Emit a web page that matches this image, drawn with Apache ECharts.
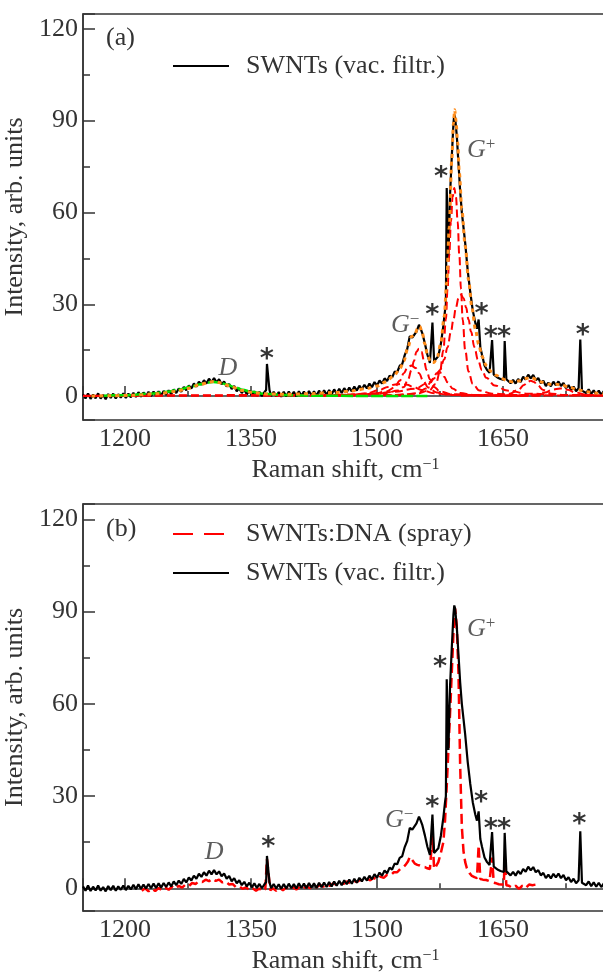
<!DOCTYPE html>
<html><head><meta charset="utf-8">
<script src="https://cdn.jsdelivr.net/npm/echarts@6/dist/echarts.min.js"></script>
<style>html,body{margin:0;padding:0;background:#fff}#c{width:603px;height:978px}</style>
</head><body><div id="c"></div>
<script>
// ---------------- data ----------------
const xTickLabels = [1200, 1350, 1500, 1650];
const yTickLabels = [0, 30, 60, 90, 120];

// SWNTs (vac. filtr.) spectrum, [Raman shift, intensity]
const vacFiltr = [
[1150,0.6],[1153,-0.8],[1156,0.9],[1159,-0.9],[1162,0.5],[1165,-0.7],[1168,0.9],[1171,-0.8],[1174,0.4],[1177,-1.0],
[1180,0.7],[1183,-0.6],[1186,0.8],[1189,-0.8],[1192,0.6],[1195,-0.5],[1198,0.9],[1201,-0.6],[1204,0.8],[1207,-0.4],
[1210,1.1],[1213,-0.3],[1216,1.3],[1219,-0.2],[1222,1.2],[1225,-0.1],[1228,1.4],[1231,0.0],[1234,1.5],[1237,0.1],
[1240,1.6],[1243,0.2],[1246,1.7],[1249,0.4],[1252,1.9],[1255,0.6],[1258,2.2],[1261,1.0],[1264,2.5],[1267,1.4],
[1270,3.0],[1273,1.9],[1276,3.5],[1279,2.5],[1282,4.1],[1285,3.1],[1288,4.7],[1291,3.7],[1294,5.2],[1297,4.1],
[1300,5.7],[1303,4.5],[1306,5.9],[1309,4.5],[1312,5.5],[1315,3.9],[1318,4.8],[1321,3.1],[1324,4.0],[1327,2.3],
[1330,3.3],[1333,1.6],[1336,2.6],[1339,1.0],[1342,2.1],[1345,0.6],[1348,1.8],[1351,0.3],[1354,1.6],[1357,0.1],
[1360,1.4],[1363,0.0],[1366,1.3],[1368,2.0],[1369,10.5],[1371,10.7],[1372,2.0],[1374,0.0],[1377,1.4],[1380,-0.1],
[1383,1.3],[1386,-0.2],[1389,1.4],[1392,-0.1],[1395,1.5],[1398,0.0],[1401,1.4],[1404,-0.1],[1407,1.6],[1410,0.1],
[1413,1.5],[1416,0.0],[1419,1.7],[1422,0.2],[1425,1.6],[1428,0.1],[1431,1.8],[1434,0.3],[1437,1.9],[1440,0.4],
[1443,2.0],[1446,0.6],[1449,2.2],[1452,0.8],[1455,2.4],[1458,1.0],[1461,2.6],[1464,1.3],[1467,2.8],[1470,1.5],
[1473,3.1],[1476,1.8],[1479,3.4],[1482,2.2],[1485,3.7],[1488,2.5],[1491,4.1],[1494,2.9],[1497,4.6],[1500,3.4],
[1503,5.1],[1506,4.1],[1509,5.8],[1512,4.9],[1515,6.7],[1518,6.1],[1521,8.0],[1524,7.8],[1527,9.9],[1530,10.4],
[1533,13.4],[1536,15.4],[1539,19.6],[1542,19.1],[1544,19.4],[1547,21.1],[1550,23.3],[1552,22.0],[1554,20.5],[1557,17.2],
[1560,13.5],[1563,10.8],[1565,11.0],[1566,24.0],[1567,24.0],[1568,11.5],[1570,11.8],[1573,13.0],[1576,17.0],[1579,23.0],
[1581,28.0],[1582,30.0],[1583,68.0],[1584,68.0],[1585,45.0],[1587,66.0],[1589,78.0],[1591,89.0],[1592,92.0],[1593,91.0],
[1595,85.0],[1597,76.0],[1599,67.0],[1601,60.0],[1603,55.0],[1605,50.0],[1608,41.0],[1611,34.0],[1614,28.0],[1617,24.0],
[1619,22.0],[1620,21.5],[1621,25.0],[1622,25.0],[1623,16.0],[1625,13.5],[1628,10.0],[1631,8.5],[1634,7.6],[1636,7.2],
[1637,18.3],[1638,18.3],[1639,7.0],[1641,6.6],[1644,6.0],[1647,5.6],[1649,5.4],[1651,5.3],[1652,18.0],[1653,18.0],
[1654,5.5],[1656,5.4],[1659,4.2],[1662,5.3],[1665,4.1],[1668,5.6],[1671,4.6],[1674,6.3],[1677,5.4],[1680,7.0],
[1683,5.8],[1686,6.9],[1689,5.2],[1692,5.9],[1695,4.2],[1698,5.0],[1701,3.3],[1704,4.4],[1707,3.2],[1710,4.7],
[1713,3.5],[1716,4.8],[1719,3.3],[1722,4.3],[1725,2.6],[1728,3.6],[1731,2.0],[1734,3.1],[1737,1.6],[1740,2.6],
[1741,2.2],[1742,18.5],[1743,18.5],[1744,1.8],[1746,2.4],[1749,1.0],[1752,2.2],[1755,0.7],[1758,1.9],[1761,0.5],
[1764,1.8],[1767,0.4],[1770,1.6],[1773,0.3],[1775,1.2]
];

// SWNTs:DNA (spray) spectrum
const dnaSpray = [
[1220,-0.8],[1224,0.0],[1228,-1.0],[1232,-0.1],[1236,-0.9],[1240,0.1],[1244,-0.7],[1248,0.2],[1252,-0.5],[1256,0.5],
[1260,-0.2],[1264,0.8],[1268,0.2],[1272,1.2],[1276,0.7],[1280,1.7],[1284,1.4],[1288,2.3],[1292,2.0],[1296,2.8],
[1300,2.3],[1304,3.1],[1308,2.4],[1312,2.8],[1316,1.9],[1320,2.2],[1324,1.2],[1328,1.4],[1332,0.4],[1336,0.7],
[1340,-0.2],[1344,0.3],[1348,-0.6],[1352,0.0],[1356,-0.8],[1360,-0.1],[1364,-0.9],[1367,-0.3],[1369,9.5],[1371,9.5],
[1373,-0.7],[1376,0.0],[1380,-0.8],[1384,0.2],[1388,-0.7],[1392,0.3],[1396,-0.5],[1400,0.4],[1404,-0.4],[1408,0.5],
[1412,-0.2],[1416,0.7],[1420,0.0],[1424,0.9],[1428,0.3],[1432,1.1],[1436,0.5],[1440,1.3],[1444,0.8],[1448,1.6],
[1452,1.1],[1456,1.9],[1460,1.4],[1464,2.2],[1468,1.7],[1472,2.5],[1476,2.0],[1480,2.8],[1484,2.3],[1488,3.1],
[1492,2.6],[1496,3.4],[1500,2.8],[1504,3.8],[1508,3.4],[1512,4.4],[1516,4.2],[1520,5.2],[1524,5.2],[1528,6.4],
[1531,6.8],[1534,7.6],[1537,8.8],[1539,10.2],[1541,10.0],[1543,8.8],[1545,8.0],[1548,7.6],[1551,7.4],[1554,7.0],
[1557,6.9],[1560,6.5],[1563,6.2],[1565,6.5],[1566,17.0],[1567,17.0],[1568,6.3],[1570,7.0],[1573,8.5],[1576,11.5],
[1579,15.0],[1581,22.0],[1583,33.0],[1585,45.0],[1587,57.0],[1589,70.0],[1591,83.0],[1593,91.0],[1595,85.0],[1597,70.0],
[1599,40.0],[1601,20.0],[1603,12.0],[1605,8.5],[1607,6.5],[1610,5.0],[1613,4.0],[1616,3.6],[1619,3.3],[1621,14.0],
[1622,14.0],[1623,3.0],[1626,2.8],[1630,2.7],[1634,2.3],[1636,2.0],[1637,10.0],[1638,10.0],[1639,1.8],[1642,1.6],
[1645,1.3],[1648,1.2],[1651,1.2],[1652,10.0],[1653,10.0],[1654,1.0],[1657,0.8],[1661,0.1],[1665,0.8],[1669,-0.2],
[1673,0.8],[1677,0.1],[1681,1.2],[1685,1.0],[1689,1.2],[1692,0.5]
];

// total fit (orange dotted)
const fitTotal = [
[1160,0.0],[1180,0.1],[1210,0.3],[1240,0.8],[1260,1.5],[1275,2.5],[1290,3.8],[1300,4.6],[1306,4.8],[1315,4.3],
[1325,3.2],[1340,1.8],[1355,1.0],[1370,0.7],[1390,0.6],[1420,0.8],[1450,1.2],[1470,1.7],[1490,2.6],[1500,3.3],
[1510,4.6],[1520,6.6],[1527,8.8],[1532,11.5],[1537,16.0],[1541,19.5],[1545,20.0],[1548,22.0],[1551,22.8],[1554,20.5],
[1557,17.0],[1560,13.5],[1564,11.0],[1568,11.0],[1572,13.0],[1576,17.5],[1580,26.0],[1583,37.0],[1586,55.0],[1589,77.0],
[1591,89.0],[1592.5,93.5],[1594,90.0],[1596,83.0],[1598,73.0],[1601,61.0],[1605,49.0],[1609,38.0],[1613,29.0],[1617,22.0],
[1621,17.0],[1625,13.0],[1630,10.0],[1636,8.0],[1642,6.8],[1648,5.8],[1655,5.0],[1662,4.6],[1670,5.0],[1678,5.8],
[1684,6.0],[1690,5.4],[1697,4.5],[1705,3.9],[1713,3.9],[1720,3.6],[1730,2.8],[1740,2.0],[1750,1.4],[1760,1.0],[1775,0.7]
];

// D band fit (green dashed)
const fitD = [
[1175,0.1],[1200,0.3],[1230,0.8],[1250,1.4],[1265,2.2],[1280,3.2],[1290,3.9],[1298,4.4],[1305,4.6],[1312,4.4],
[1320,3.9],[1330,3.0],[1340,2.1],[1350,1.4],[1365,0.8],[1385,0.4],[1420,0.15],[1480,0.05],[1560,0.0]
];

// G band components (red dashed)
const compG1 = [
[1150,0.05],[1442,0.15],[1492,0.25],[1522,0.4],[1547,0.8],[1562,1.8],[1570,4],[1575,8],[1579,15],[1582,25],
[1584,35],[1586,46],[1588,57],[1590,65],[1592,68],[1594,65],[1596,57],[1598,46],[1600,35],[1602,25],
[1605,15],[1609,8],[1614,4],[1622,1.8],[1637,0.8],[1662,0.4],[1692,0.25],[1775,0.1]
];
const compG2 = [
[1150,0.1],[1450,0.4],[1500,0.9],[1520,1.4],[1545,2.4],[1560,4.2],[1570,6],[1575,8.5],[1580,12],[1584,16],
[1588,21],[1591,25],[1594,29],[1597,32],[1600,33],[1603,32],[1606,29],[1609,25],[1612,21],[1616,16],
[1620,12],[1625,8.5],[1630,6],[1640,3.5],[1655,1.8],[1680,0.8],[1720,0.4],[1775,0.2]
];
const compG3 = [
[1460,0.2],[1500,0.7],[1510,1],[1525,1.8],[1532,3],[1537,5.5],[1541,8.5],[1544,11.5],[1547,14.5],[1550,15.5],
[1553,14.5],[1556,11.5],[1559,8.5],[1563,5.5],[1568,3],[1575,1.5],[1590,0.6],[1620,0.3],[1680,0.1]
];
const compG4 = [
[1440,0.2],[1480,0.5],[1496,0.8],[1511,1.5],[1521,2.8],[1527,5],[1532,7.5],[1536,9.2],[1541,10],[1546,9.2],
[1550,7.5],[1555,5],[1561,2.8],[1571,1.2],[1586,0.5],[1620,0.2],[1680,0.1]
];
const compG5 = [
[1480,0.1],[1520,0.3],[1534,0.5],[1549,1],[1558,2.5],[1564,4.5],[1568,6.3],[1571,7.5],[1574,8],[1577,7.5],
[1580,6.3],[1584,4.5],[1590,2.5],[1599,1],[1614,0.4],[1650,0.2],[1700,0.1]
];
const compG6 = [
[1420,0.2],[1468,0.4],[1488,0.9],[1503,2],[1513,3],[1520,3.7],[1528,4],[1536,3.7],[1543,3],[1553,2],
[1568,0.9],[1588,0.4],[1630,0.2]
];
const compG7 = [
[1600,0.1],[1643,0.3],[1658,0.8],[1668,2],[1675,3.6],[1679,4.6],[1683,5],[1687,4.6],[1691,3.6],[1698,2],
[1708,0.8],[1723,0.3],[1760,0.1]
];
const compG8 = [
[1640,0.1],[1673,0.2],[1688,0.5],[1700,1.2],[1709,2.1],[1718,2.5],[1727,2.1],[1736,1.2],[1748,0.5],[1763,0.2],[1775,0.1]
];

// asterisk marks (data coordinates of their centres)
const starsA = [[1368.7,14.5],[1565.8,28.7],[1576.2,73.9],[1624.6,29.2],[1635.4,21.6],[1651.2,21.6],[1744.9,22.1]];
const starsB = [[1370.6,15.7],[1565.8,28.7],[1575.0,74.3],[1623.8,30.4],[1635.4,21.7],[1651.2,21.7],[1740.8,23.3]];
// band labels
const bandLabelsA = [{t:'D', x:1322.6, y:9.2}, {t:'G', s:'−', x:1516.7, y:23.2}, {t:'G', s:'+', x:1607.1, y:80.4}];
const bandLabelsB = [{t:'D', x:1306.0, y:11.8}, {t:'G', s:'−', x:1509.5, y:22.3}, {t:'G', s:'+', x:1607.1, y:84.3}];

// ---------------- chart ----------------
const FONT = "'Liberation Serif', 'Times New Roman', Times, serif";
const FS = 26;
const TXT = '#333';
const chart = echarts.init(document.getElementById('c'), null, {renderer: 'canvas'});

function xAxisCfg(gi) {
  return {
    type: 'value', gridIndex: gi, min: 1150, max: 1775, minInterval: 150, maxInterval: 150,
    name: 'Raman shift, cm{sup|−1}', nameLocation: 'middle', nameGap: 37,
    nameTextStyle: {fontFamily: FONT, fontSize: FS, color: TXT,
      rich: {sup: {fontFamily: FONT, fontSize: 16, color: TXT, verticalAlign: 'top'}}},
    axisLine: {show: true, lineStyle: {color: '#333', width: 1.5}},
    axisTick: {show: true, inside: true, length: 10, lineStyle: {color: '#333', width: 1.5}},
    minorTick: {show: true, splitNumber: 2, length: 5, lineStyle: {color: '#333', width: 1.5}},
    splitLine: {show: false}, minorSplitLine: {show: false},
    axisLabel: {fontFamily: FONT, fontSize: FS, color: TXT, margin: 6, showMinLabel: false, showMaxLabel: false,
      formatter: v => xTickLabels.includes(Math.round(v)) ? String(Math.round(v)) : ''}
  };
}
function yAxisCfg(gi, mn, mx) {
  return {
    type: 'value', gridIndex: gi, min: mn, max: mx, minInterval: 30, maxInterval: 30,
    name: 'Intensity, arb. units', nameLocation: 'middle', nameGap: 44,
    nameTextStyle: {fontFamily: FONT, fontSize: FS, color: TXT},
    axisLine: {show: true, lineStyle: {color: '#333', width: 1.5}},
    axisTick: {show: true, inside: true, length: 12, lineStyle: {color: '#333', width: 1.5}},
    minorTick: {show: true, splitNumber: 2, length: 7, lineStyle: {color: '#333', width: 1.5}},
    splitLine: {show: false}, minorSplitLine: {show: false},
    axisLabel: {fontFamily: FONT, fontSize: FS, color: TXT, margin: 5, showMinLabel: false, showMaxLabel: false,
      formatter: v => yTickLabels.includes(Math.round(v)) ? String(Math.round(v)) : ''}
  };
}
function line(name, data, gi, style, extra) {
  return Object.assign({type: 'line', name: name, data: data, xAxisIndex: gi, yAxisIndex: gi,
    symbol: 'none', showSymbol: false, animation: false, silent: true, lineStyle: style}, extra || {});
}
const redComp = {color: '#ff0000', width: 2, type: [8, 4]};
function comp(data) { return line('', data, 0, redComp, {smooth: 0.4, smoothMonotone: 'x', z: 3}); }

function annot(gi, stars, bands) {
  const data = [];
  stars.forEach(p => data.push({value: p, label: {formatter: '*', position: 'inside',
    fontFamily: 'DejaVu Sans', fontWeight: 'bold', fontSize: 27, color: '#000', offset: [0, 8]}}));
  bands.forEach(b => {
    if (b.s) {
      data.push({value: [b.x, b.y], label: {position: 'right', distance: 0,
        formatter: '{g|' + b.t + '}{s|' + b.s + '}',
        rich: {g: {fontFamily: FONT, fontStyle: 'italic', fontSize: FS, color: TXT, lineHeight: 28},
               s: {fontFamily: FONT, fontSize: 17, color: TXT, verticalAlign: 'top'}}}});
    } else {
      data.push({value: [b.x, b.y], label: {position: 'inside', formatter: b.t,
        fontFamily: FONT, fontStyle: 'italic', fontSize: FS, color: TXT}});
    }
  });
  return {type: 'scatter', xAxisIndex: gi, yAxisIndex: gi, symbolSize: 0, silent: true, animation: false,
    z: 20, data: data, label: {show: true}};
}

const gridBase = {left: 83, width: 525, show: true, borderColor: '#333', borderWidth: 1.5,
  backgroundColor: 'transparent', containLabel: false, outerBoundsMode: 'none'};
const option = {
  animation: false,
  backgroundColor: '#fff',
  textStyle: {fontFamily: FONT},
  grid: [
    Object.assign({top: 14, height: 406}, gridBase),
    Object.assign({top: 504, height: 407}, gridBase)
  ],
  title: [
    {text: '(a)', left: 106, top: 25, padding: 0, textStyle: {fontFamily: FONT, fontSize: FS, fontWeight: 'normal', color: TXT}},
    {text: '(b)', left: 106, top: 516, padding: 0, textStyle: {fontFamily: FONT, fontSize: FS, fontWeight: 'normal', color: TXT}}
  ],
  legend: [
    {left: 172, top: 53, padding: 0, orient: 'vertical', itemWidth: 56, itemHeight: 14, selectedMode: false,
     itemStyle: {opacity: 0},
     data: ['SWNTs (vac. filtr.)'],
     textStyle: {fontFamily: FONT, fontSize: FS, color: TXT, padding: [10, 0, 0, 12]}},
    {left: 172, top: 521, padding: 0, orient: 'vertical', itemWidth: 56, itemHeight: 14, itemGap: 13, selectedMode: false,
     itemStyle: {opacity: 0},
     data: [{name: 'SWNTs:DNA (spray)', lineStyle: {type: [20, 11]}}, 'SWNTs (vac. filtr.)'],
     textStyle: {fontFamily: FONT, fontSize: FS, color: TXT, padding: [0, 0, 0, 12]}}
  ],
  xAxis: [xAxisCfg(0), xAxisCfg(1)],
  yAxis: [yAxisCfg(0, -7.8, 124.8), yAxisCfg(1, -7.4, 125)],
  series: [
    line('SWNTs (vac. filtr.)', vacFiltr, 0, {color: '#000', width: 2.2}, {itemStyle: {color: '#000'}, z: 2}),
    comp(compG1), comp(compG2), comp(compG3), comp(compG4), comp(compG5), comp(compG6), comp(compG7), comp(compG8),
    line('', fitD, 0, {color: '#00e000', width: 2.5, type: [12, 3]}, {smooth: 0.4, smoothMonotone: 'x', z: 4}),
    line('', fitTotal, 0, {color: '#ff8c1a', width: 3, type: [4, 4]}, {smooth: 0.3, smoothMonotone: 'x', z: 5}),
    line('SWNTs:DNA (spray)', dnaSpray, 1, {color: '#ff0000', width: 2.5, type: [10, 5]}, {itemStyle: {color: '#ff0000'}, z: 2}),
    line('SWNTs (vac. filtr.)', vacFiltr, 1, {color: '#000', width: 2.2}, {itemStyle: {color: '#000'}, z: 3}),
    annot(0, starsA, bandLabelsA),
    annot(1, starsB, bandLabelsB)
  ]
};
chart.setOption(option);
</script>
</body></html>
